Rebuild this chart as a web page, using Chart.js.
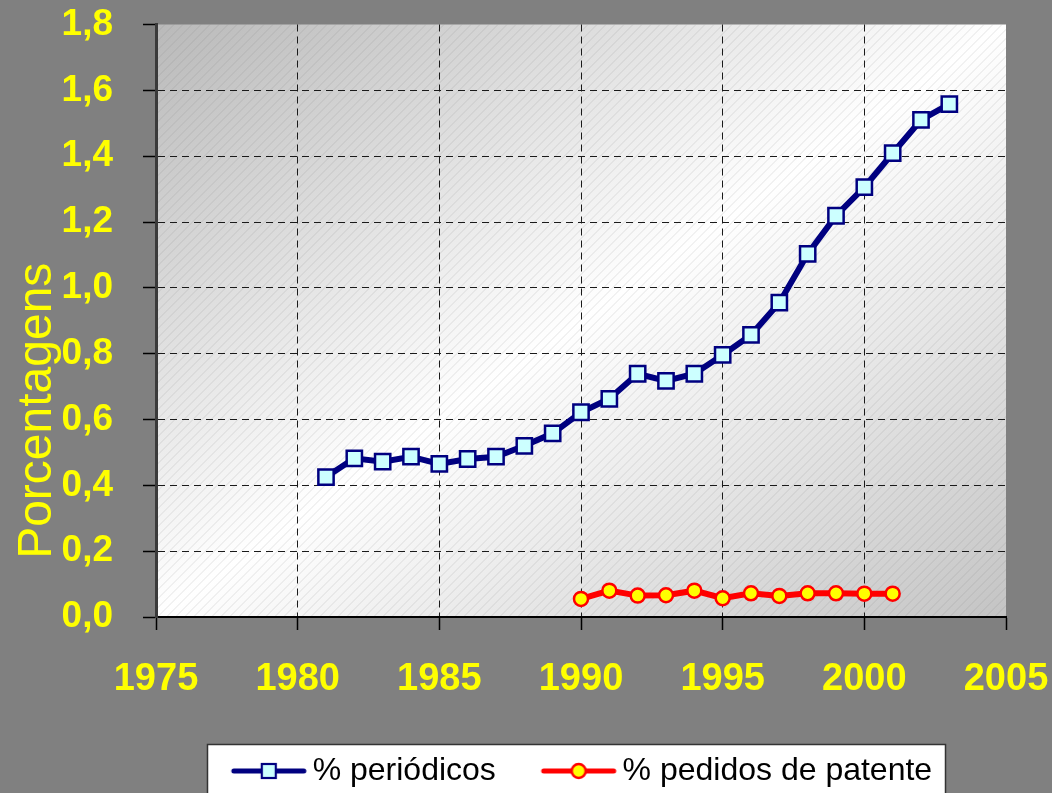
<!DOCTYPE html>
<html>
<head>
<meta charset="utf-8">
<script src="https://cdn.jsdelivr.net/npm/chart.js@4.4.1/dist/chart.umd.min.js"></script>
<style>
html, body { margin: 0; padding: 0; background: #808080; }
canvas { display: block; }
</style>
</head>
<body>
<canvas id="c" width="1052" height="793"></canvas>
<script>
// ---- data ----
const yearsPeriodicos = [1981, 1982, 1983, 1984, 1985, 1986, 1987, 1988, 1989, 1990, 1991, 1992,
                         1993, 1994, 1995, 1996, 1997, 1998, 1999, 2000, 2001, 2002, 2003];
const periodicos = [0.425, 0.482, 0.472, 0.487, 0.465, 0.480, 0.487, 0.520, 0.558, 0.622, 0.663, 0.739,
                    0.717, 0.739, 0.796, 0.857, 0.955, 1.103, 1.219, 1.306, 1.409, 1.510, 1.558];
const yearsPatentes = [1990, 1991, 1992, 1993, 1994, 1995, 1996, 1997, 1998, 1999, 2000, 2001];
const patentes = [0.055, 0.080, 0.065, 0.066, 0.080, 0.057, 0.072, 0.064, 0.072, 0.072, 0.071, 0.071];
const seriesLabels = ['% periódicos', '% pedidos de patente'];
const xTickValues = [1975, 1980, 1985, 1990, 1995, 2000, 2005];
const xTickLabels = ['1975', '1980', '1985', '1990', '1995', '2000', '2005'];
const yTickValues = [0, 0.2, 0.4, 0.6, 0.8, 1.0, 1.2, 1.4, 1.6, 1.8];
const yTickLabels = ['0,0', '0,2', '0,4', '0,6', '0,8', '1,0', '1,2', '1,4', '1,6', '1,8'];
const yTitle = 'Porcentagens';

// ---- styles ----
const FONT = "'Liberation Sans', Arial, sans-serif";
const YELLOW = '#FFFF00';
const NAVY = '#000080';
const CYAN = '#CCFFFF';
const RED = '#FF0000';

Chart.defaults.font.family = FONT;

function legendIcon(kind) {
  const c = document.createElement('canvas');
  c.width = 89; c.height = 26;
  const g = c.getContext('2d');
  g.lineCap = 'round';
  g.lineWidth = 5;
  g.strokeStyle = kind === 'rect' ? NAVY : RED;
  g.beginPath(); g.moveTo(15, 13); g.lineTo(85, 13); g.stroke();
  if (kind === 'rect') {
    g.fillStyle = CYAN; g.fillRect(43, 6, 14, 14);
    g.lineWidth = 2.2; g.strokeStyle = NAVY; g.strokeRect(43, 6, 14, 14);
  } else {
    g.beginPath(); g.arc(50, 13, 7, 0, Math.PI * 2);
    g.fillStyle = YELLOW; g.fill();
    g.lineWidth = 2.5; g.strokeStyle = RED; g.stroke();
  }
  return c;
}
const legendIcons = [legendIcon('rect'), legendIcon('circle')];

const bgPlugin = {
  id: 'bgPlugin',
  beforeDraw(chart) {
    const { ctx, chartArea: a, width, height } = chart;
    ctx.save();
    ctx.fillStyle = '#808080';
    ctx.fillRect(0, 0, width, height);
    const w = a.right - a.left, h = a.bottom - a.top;
    const cx = (a.left + a.right) / 2, cy = (a.top + a.bottom) / 2;
    const k = (w * h) / (w * w + h * h);
    const g = ctx.createLinearGradient(cx - k * h, cy - k * w, cx + k * h, cy + k * w);
    g.addColorStop(0, '#b9b9b9');
    g.addColorStop(0.5, '#ffffff');
    g.addColorStop(1, '#c4c4c4');
    ctx.fillStyle = g;
    ctx.fillRect(a.left, a.top, w, h);
    ctx.save();
    ctx.beginPath(); ctx.rect(a.left, a.top, w, h); ctx.clip();
    ctx.strokeStyle = 'rgba(110,110,110,0.18)';
    ctx.lineWidth = 1;
    ctx.beginPath();
    for (let x = a.left - h; x < a.right; x += 9) {
      ctx.moveTo(x, a.bottom); ctx.lineTo(x + h, a.top);
    }
    ctx.stroke();
    ctx.restore();

    // legend frame
    const lg = chart.legend;
    if (lg && lg.legendHitBoxes && lg.legendHitBoxes.length) {
      const hb = lg.legendHitBoxes;
      const first = hb[0], last = hb[hb.length - 1];
      const x0 = Math.round(first.left - 23), x1 = Math.round(last.left + last.width + 13);
      const y0 = Math.round(first.top - 11);
      ctx.fillStyle = '#ffffff';
      ctx.fillRect(x0, y0, x1 - x0, height - y0 + 10);
      ctx.strokeStyle = '#333333';
      ctx.lineWidth = 1.5;
      ctx.strokeRect(x0 + 0.5, y0 + 0.5, x1 - x0, height - y0 + 10);
    }

    // y axis title
    ctx.save();
    ctx.translate(51, (a.top + a.bottom) / 2 + 90);
    ctx.rotate(-Math.PI / 2);
    ctx.font = "48px " + FONT;
    ctx.fillStyle = YELLOW;
    ctx.textAlign = 'center';
    ctx.textBaseline = 'alphabetic';
    ctx.fillText(yTitle, 0, 0);
    ctx.restore();
    ctx.restore();
  }
};

const data = {
  datasets: [
    {
      label: seriesLabels[0],
      data: yearsPeriodicos.map((x, i) => ({ x, y: periodicos[i] })),
      borderColor: NAVY,
      borderWidth: 6,
      pointStyle: 'rect',
      pointRadius: 10.8,
      pointBackgroundColor: CYAN,
      pointBorderColor: NAVY,
      pointBorderWidth: 2.5,
      tension: 0
    },
    {
      label: seriesLabels[1],
      data: yearsPatentes.map((x, i) => ({ x, y: patentes[i] })),
      borderColor: RED,
      borderWidth: 6,
      pointStyle: 'circle',
      pointRadius: 7,
      pointBackgroundColor: YELLOW,
      pointBorderColor: RED,
      pointBorderWidth: 2.5,
      tension: 0
    }
  ]
};

new Chart(document.getElementById('c'), {
  type: 'line',
  data,
  plugins: [bgPlugin],
  options: {
    responsive: false,
    animation: false,
    devicePixelRatio: 1,
    layout: { padding: { top: 24.5, left: 0, right: 46, bottom: -4 } },
    plugins: {
      tooltip: { enabled: false },
      legend: {
        position: 'bottom',
        fullSize: false,
        align: 'center',
        labels: {
          usePointStyle: true,
          pointStyleWidth: 66.8,
          padding: 43.9,
          color: '#000000',
          font: { size: 32, family: FONT },
          generateLabels(chart) {
            const items = Chart.defaults.plugins.legend.labels.generateLabels(chart);
            items.forEach((it, i) => { it.pointStyle = legendIcons[i]; it.fontColor = '#000000'; it.rotation = 0; });
            return items;
          }
        }
      }
    },
    scales: {
      x: {
        type: 'linear',
        min: 1975,
        max: 2005,
        afterBuildTicks(scale) { scale.ticks = xTickValues.map(v => ({ value: v })); },
        afterFit(scale) {
          scale.height = 94.1;
          scale.paddingLeft = 0; scale.paddingRight = 0;
        },
        ticks: {
          color: YELLOW,
          font: { size: 38, weight: 'bold', family: FONT },
          padding: 27,
          maxRotation: 0,
          autoSkip: false,
          callback: (v, i) => xTickLabels[i]
        },
        grid: {
          color: (c) => (c.tick && (c.tick.value === 1975 || c.tick.value === 2005)) ? 'rgba(0,0,0,0)' : '#1a1a1a',
          lineWidth: 1,
          tickLength: 13,
          tickColor: '#000000',
          tickWidth: 1.5,
          tickBorderDash: []
        },
        border: { display: true, color: '#000000', width: 2, dash: [7, 5] }
      },
      y: {
        type: 'linear',
        min: 0,
        max: 1.8,
        afterBuildTicks(scale) { scale.ticks = yTickValues.map(v => ({ value: v })); },
        afterFit(scale) {
          scale.width = 156;
          scale.paddingTop = 0; scale.paddingBottom = 0;
        },
        ticks: {
          color: YELLOW,
          font: { size: 37, weight: 'bold', family: FONT },
          padding: 30,
          autoSkip: false,
          callback: (v, i) => yTickLabels[i]
        },
        grid: {
          color: (c) => (c.tick && (c.tick.value === 0 || Math.abs(c.tick.value - 1.8) < 1e-9)) ? 'rgba(0,0,0,0)' : '#1a1a1a',
          lineWidth: 1,
          tickLength: 13,
          tickColor: '#000000',
          tickWidth: 1.5,
          tickBorderDash: []
        },
        border: { display: true, color: '#3a3a3a', width: 3, dash: [7, 5] },
        title: { display: false }
      }
    }
  }
});
</script>
</body>
</html>
